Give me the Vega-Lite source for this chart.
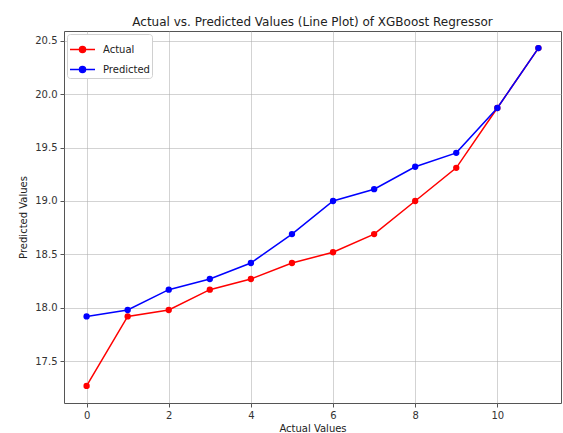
{
  "$schema": "https://vega.github.io/schema/vega-lite/v6.json",
  "width": 497,
  "height": 372,
  "autosize": {"type": "none"},
  "padding": {"left": 64, "top": 31, "right": 2, "bottom": 30},
  "background": "white",
  "title": {
    "text": "Actual vs. Predicted Values (Line Plot) of XGBoost Regressor",
    "font": "DejaVu Sans",
    "fontSize": 12,
    "fontWeight": "normal",
    "color": "#222",
    "anchor": "middle",
    "offset": 2
  },
  "config": {
    "view": {"stroke": "#555", "strokeWidth": 1},
    "axis": {
      "labelFont": "DejaVu Sans",
      "titleFont": "DejaVu Sans",
      "labelFontSize": 10,
      "titleFontSize": 10,
      "titleFontWeight": "normal",
      "labelColor": "#333",
      "titleColor": "#222",
      "tickColor": "#555",
      "tickSize": 4,
      "domain": false,
      "gridColor": "#b0b0b0",
      "gridOpacity": 0.7,
      "gridWidth": 0.8
    }
  },
  "data": {
    "values": [
      {"idx": 0, "value": 17.27, "series": "Actual"},
      {"idx": 1, "value": 17.92, "series": "Actual"},
      {"idx": 2, "value": 17.98, "series": "Actual"},
      {"idx": 3, "value": 18.17, "series": "Actual"},
      {"idx": 4, "value": 18.27, "series": "Actual"},
      {"idx": 5, "value": 18.42, "series": "Actual"},
      {"idx": 6, "value": 18.52, "series": "Actual"},
      {"idx": 7, "value": 18.69, "series": "Actual"},
      {"idx": 8, "value": 19.0, "series": "Actual"},
      {"idx": 9, "value": 19.31, "series": "Actual"},
      {"idx": 10, "value": 19.87, "series": "Actual"},
      {"idx": 11, "value": 20.43, "series": "Actual"},
      {"idx": 0, "value": 17.92, "series": "Predicted"},
      {"idx": 1, "value": 17.98, "series": "Predicted"},
      {"idx": 2, "value": 18.17, "series": "Predicted"},
      {"idx": 3, "value": 18.27, "series": "Predicted"},
      {"idx": 4, "value": 18.42, "series": "Predicted"},
      {"idx": 5, "value": 18.69, "series": "Predicted"},
      {"idx": 6, "value": 19.0, "series": "Predicted"},
      {"idx": 7, "value": 19.11, "series": "Predicted"},
      {"idx": 8, "value": 19.32, "series": "Predicted"},
      {"idx": 9, "value": 19.45, "series": "Predicted"},
      {"idx": 10, "value": 19.87, "series": "Predicted"},
      {"idx": 11, "value": 20.43, "series": "Predicted"}
    ]
  },
  "encoding": {
    "x": {
      "field": "idx",
      "type": "quantitative",
      "scale": {"domain": [-0.55, 11.55], "nice": false, "zero": false},
      "axis": {"values": [0, 2, 4, 6, 8, 10], "title": "Actual Values", "titlePadding": 3, "labelPadding": 3}
    },
    "y": {
      "field": "value",
      "type": "quantitative",
      "scale": {"domain": [17.11, 20.59], "nice": false, "zero": false},
      "axis": {"values": [17.5, 18.0, 18.5, 19.0, 19.5, 20.0, 20.5], "format": ".1f", "title": "Predicted Values", "titlePadding": 6, "labelPadding": 3}
    },
    "color": {
      "field": "series",
      "type": "nominal",
      "scale": {"domain": ["Actual", "Predicted"], "range": ["#ff0000", "#0000ff"]},
      "legend": {
        "title": null,
        "orient": "top-left",
        "offset": 3,
        "fillColor": "white",
        "strokeColor": "#d0d0d0",
        "padding": 2,
        "cornerRadius": 3,
        "labelFont": "DejaVu Sans",
        "labelFontSize": 10,
        "labelColor": "#222",
        "labelOffset": 7,
        "symbolType": "M -1 0 L 1 0 M 0.24 0 A 0.24 0.24 0 1 1 -0.24 0 A 0.24 0.24 0 1 1 0.24 0",
        "symbolSize": 625,
        "symbolStrokeWidth": 1.5,
        "rowPadding": -12
      }
    }
  },
  "layer": [
    {"mark": {"type": "line", "strokeWidth": 1.5}},
    {"mark": {"type": "point", "filled": true, "size": 40, "opacity": 1}}
  ]
}
